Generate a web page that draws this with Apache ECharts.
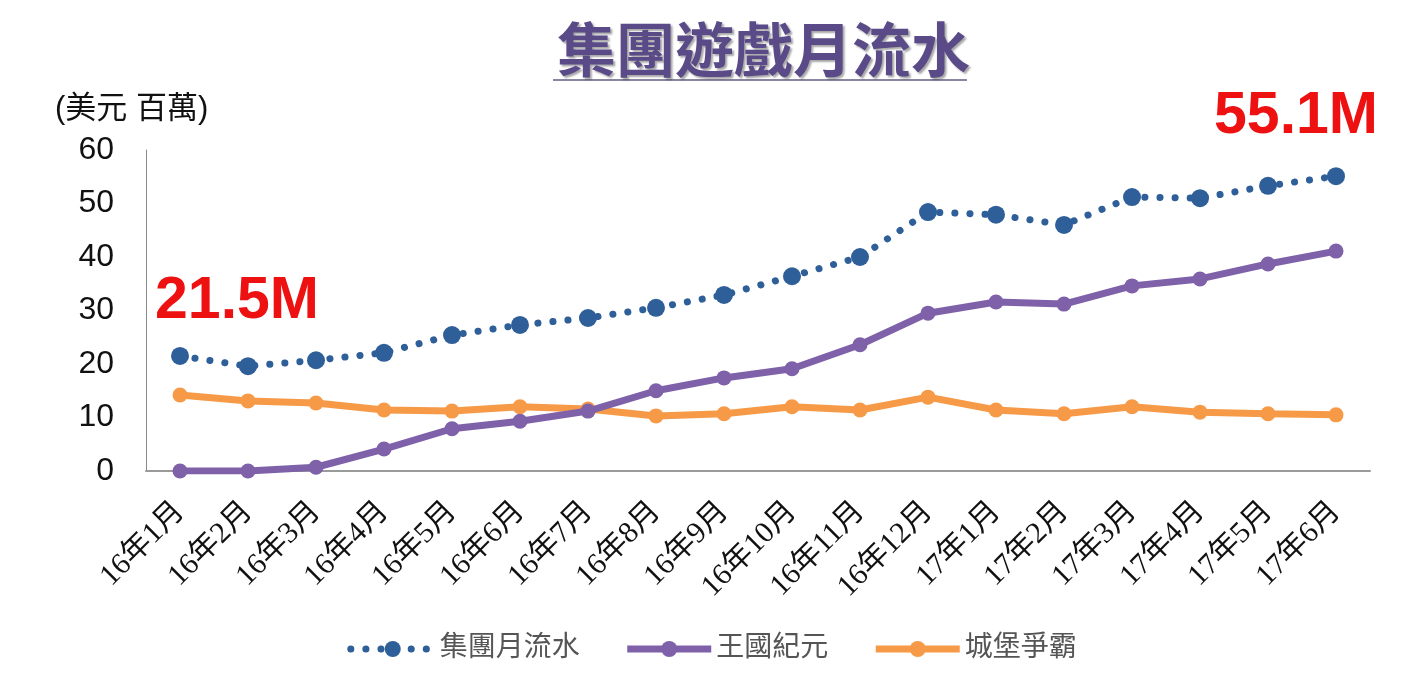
<!DOCTYPE html>
<html>
<head>
<meta charset="utf-8">
<script src="https://cdn.jsdelivr.net/npm/echarts@6/dist/echarts.min.js"></script>
<style>
html, body { margin: 0; padding: 0; background: #fff; }
#main { width: 1424px; height: 700px; }
</style>
</head>
<body>
<div id="main"></div>
<script>
// 月份
var months = ['16年1月', '16年2月', '16年3月', '16年4月', '16年5月', '16年6月', '16年7月', '16年8月', '16年9月',
    '16年10月', '16年11月', '16年12月', '17年1月', '17年2月', '17年3月', '17年4月', '17年5月', '17年6月'];
// 集團月流水
var groupTotal = [21.5, 19.6, 20.7, 22.1, 25.4, 27.3, 28.6, 30.5, 32.9, 36.4, 40.0, 48.4, 47.9, 46.0, 51.2, 51.0, 53.3, 55.1];
// 王國紀元
var kingdom = [0, 0, 0.7, 4.1, 7.9, 9.3, 11.2, 15.0, 17.4, 19.1, 23.6, 29.5, 31.6, 31.2, 34.6, 35.9, 38.7, 41.1];
// 城堡爭霸
var castle = [14.2, 13.1, 12.7, 11.4, 11.2, 12.0, 11.6, 10.3, 10.7, 12.0, 11.4, 13.8, 11.4, 10.7, 12.0, 11.0, 10.7, 10.5];

var seriesNames = ['集團月流水', '王國紀元', '城堡爭霸'];
var cjk = '"Liberation Sans", "Noto Sans CJK TC", sans-serif';
var serif = '"Liberation Serif", "Noto Sans CJK TC", serif';

var myChart = echarts.init(document.getElementById('main'));
var option = {
    backgroundColor: '#ffffff',
    animation: false,
    title: {
        text: '集團遊戲月流水',
        left: 552,
        top: 21,
        textStyle: {
            color: '#5a4a88',
            fontSize: 59,
            fontWeight: 'bold',
            fontFamily: cjk,
            textShadowColor: 'rgba(0,0,0,0.35)',
            textShadowOffsetX: 2,
            textShadowOffsetY: 2,
            textShadowBlur: 2
        }
    },
    graphic: [
        { type: 'line', shape: { x1: 553, y1: 80, x2: 967, y2: 80 }, style: { stroke: '#8a86a0', lineWidth: 2 } },
        { type: 'text', left: 55, top: 94, style: { text: '(美元 百萬)', fill: '#111', font: '31px ' + cjk } },
        { type: 'text', left: 155, top: 272, style: { text: '21.5M', fill: '#ee1111', font: 'bold 59px "Liberation Sans", Arial, sans-serif' } },
        { type: 'text', right: 46, top: 87, style: { text: '55.1M', fill: '#ee1111', font: 'bold 59px "Liberation Sans", Arial, sans-serif' } }
    ],
    legend: {
        data: seriesNames,
        left: 'center',
        top: 630,
        itemWidth: 84,
        itemHeight: 20,
        itemGap: 44,
        lineStyle: { width: 'inherit' },
        textStyle: { color: '#555', fontSize: 28, fontFamily: serif }
    },
    grid: { left: 146, right: 54, top: 150, bottom: 229 },
    xAxis: {
        type: 'category',
        data: months,
        axisLine: { lineStyle: { color: '#9a9a9a', width: 2 } },
        axisTick: { show: false },
        axisLabel: { rotate: 45, color: '#111', fontSize: 30, fontFamily: serif, margin: 36, interval: 0 }
    },
    yAxis: {
        type: 'value',
        min: 0,
        max: 60,
        interval: 10,
        axisLine: { show: true, lineStyle: { color: '#8a8a8a', width: 1 } },
        axisTick: { show: false },
        splitLine: { show: false },
        axisLabel: { color: '#111', fontSize: 32, fontFamily: '"Liberation Sans", Arial, sans-serif', margin: 32 }
    },
    series: [
        {
            name: seriesNames[0],
            type: 'line',
            data: groupTotal,
            symbol: 'circle',
            symbolSize: 18,
            color: '#2f5f98',
            lineStyle: { width: 7, type: [0.1, 15], cap: 'round', color: '#2f5f98' },
            z: 4
        },
        {
            name: seriesNames[1],
            type: 'line',
            data: kingdom,
            symbol: 'circle',
            symbolSize: 15,
            color: '#7e61a9',
            lineStyle: { width: 7, color: '#7e61a9' },
            z: 3
        },
        {
            name: seriesNames[2],
            type: 'line',
            data: castle,
            symbol: 'circle',
            symbolSize: 15,
            color: '#f79a48',
            lineStyle: { width: 7, color: '#f79a48' },
            z: 2
        }
    ]
};
myChart.setOption(option);
window.addEventListener('resize', function () { myChart.resize(); })
</script>
</body>
</html>
